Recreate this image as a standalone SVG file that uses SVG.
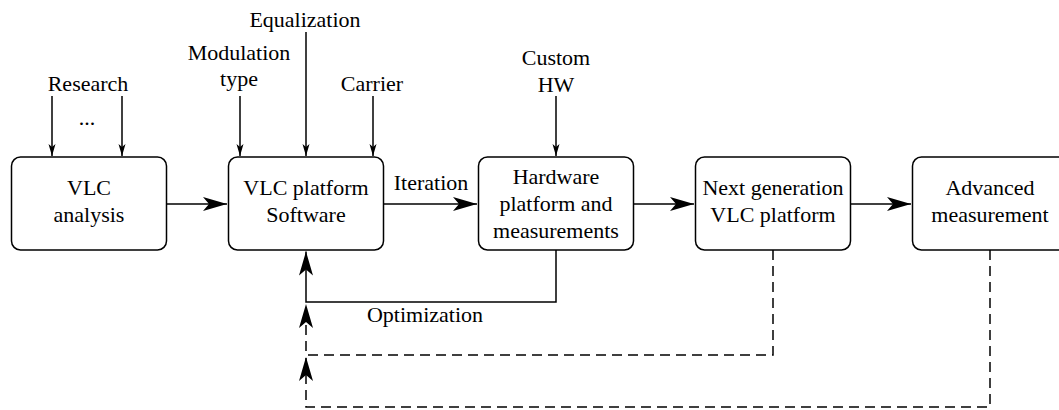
<svg xmlns="http://www.w3.org/2000/svg" width="1059" height="410" viewBox="0 0 1059 410">
<defs>
<style>
.box{fill:#fff;stroke:#000;stroke-width:1.5}
.ln{fill:none;stroke:#000;stroke-width:1.5}
.dash{stroke-dasharray:10 6}
text{font-family:"Liberation Serif","Times New Roman",serif;font-size:22px;fill:#000;text-anchor:middle}
</style>
<marker id="big" markerUnits="userSpaceOnUse" markerWidth="28" markerHeight="18" viewBox="-26 -9 28 18" refX="0" refY="0" orient="auto">
<path d="M0,0 L-24,-7 L-18,0 L-24,7 Z" fill="#000"/>
</marker>
<marker id="sm" markerUnits="userSpaceOnUse" markerWidth="16" markerHeight="10" viewBox="-14 -5 16 10" refX="0" refY="0" orient="auto">
<path d="M0,0 L-12,-3.5 L-9,0 L-12,3.5 Z" fill="#000"/>
</marker>
</defs>
<rect width="1059" height="410" fill="#fff"/>
<g id="connectors">
<path class="ln" d="M52,96 V156" marker-end="url(#sm)"/>
<path class="ln" d="M122,96 V156" marker-end="url(#sm)"/>
<path class="ln" d="M240,96 V156" marker-end="url(#sm)"/>
<path class="ln" d="M306,32 V156" marker-end="url(#sm)"/>
<path class="ln" d="M373,96 V156" marker-end="url(#sm)"/>
<path class="ln" d="M556,96 V156" marker-end="url(#sm)"/>
<path class="ln" d="M166.5,204 H227" marker-end="url(#big)"/>
<path class="ln" d="M383.5,204 H477" marker-end="url(#big)"/>
<path class="ln" d="M633.5,204 H694" marker-end="url(#big)"/>
<path class="ln" d="M850.5,204 H911" marker-end="url(#big)"/>
<path class="ln" d="M556,250 V302 H306 V251.5" marker-end="url(#big)"/>
<path class="ln dash" d="M773,250 V355 H306 V304" marker-end="url(#big)"/>
<path class="ln dash" d="M990,250 V407 H306 V357" marker-end="url(#big)"/>
<text x="88" y="91">Research</text>
<text x="87" y="125">...</text>
<text x="239" y="60">Modulation</text>
<text x="239" y="86">type</text>
<text x="305" y="27">Equalization</text>
<text x="372" y="91">Carrier</text>
<text x="556" y="65">Custom</text>
<text x="556" y="92">HW</text>
<text x="431" y="190">Iteration</text>
<text x="425" y="322">Optimization</text>
</g>
<g id="vlc-analysis">
<rect class="box" x="11.5" y="157" width="155" height="93" rx="9"/>
<text x="89" y="195">VLC</text>
<text x="89" y="222">analysis</text>
</g>
<g id="vlc-platform-software">
<rect class="box" x="228.5" y="157" width="155" height="93" rx="9"/>
<text x="306" y="195">VLC platform</text>
<text x="306" y="222">Software</text>
</g>
<g id="hardware-platform">
<rect class="box" x="478.5" y="157" width="155" height="93" rx="9"/>
<text x="556" y="184">Hardware</text>
<text x="556" y="211">platform and</text>
<text x="556" y="238">measurements</text>
</g>
<g id="next-generation">
<rect class="box" x="695.5" y="157" width="155" height="93" rx="9"/>
<text x="773" y="195">Next generation</text>
<text x="773" y="222">VLC platform</text>
</g>
<g id="advanced-measurement">
<rect class="box" x="912.5" y="157" width="155" height="93" rx="9"/>
<text x="990" y="195">Advanced</text>
<text x="990" y="222">measurement</text>
</g>
</svg>
